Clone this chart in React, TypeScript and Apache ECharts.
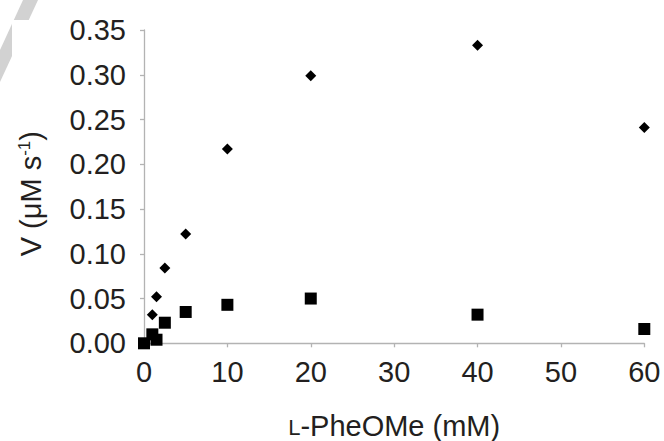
import React, { useEffect, useRef } from "react";
import * as echarts from "echarts";

const xValues = [0, 1, 1.5, 2.5, 5, 10, 20, 40, 60];
const diamondValues = [null, 0.032, 0.052, 0.084, 0.122, 0.217, 0.299, 0.333, 0.241];
const squareValues = [0.0, 0.01, 0.004, 0.023, 0.035, 0.043, 0.05, 0.032, 0.016];
const yTicks = [0, 0.05, 0.1, 0.15, 0.2, 0.25, 0.3, 0.35];
const xTicks = [0, 10, 20, 30, 40, 50, 60];

const FONT = "'Liberation Sans', Arial, sans-serif";
const TEXT = "#231f20";
const AXIS = "#b3b3b3";

function pairs(vals: (number | null)[]) {
  const out: number[][] = [];
  vals.forEach((v, i) => {
    if (v !== null) out.push([xValues[i], v]);
  });
  return out;
}

export default function App() {
  const ref = useRef<HTMLDivElement>(null);
  useEffect(() => {
    document.body.style.margin = "0";
    const chart = echarts.init(ref.current!, null, { renderer: "svg" });
    chart.setOption({
      animation: false,
      backgroundColor: "#ffffff",
      grid: {
        left: 144,
        right: 19.7,
        top: 30,
        bottom: 97.7,
        containLabel: false,
        outerBoundsMode: "none",
      },
      graphic: [
        {
          type: "polygon",
          z: 0,
          shape: { points: [[23, 0], [38, 0], [0, 82], [0, 50]] },
          style: { fill: "#d2d2d2" },
        },
        {
          type: "rect",
          z: 1,
          shape: { x: 12, y: 20, width: 50, height: 90 },
          style: { fill: "#ffffff" },
        },
      ],
      xAxis: {
        type: "value",
        min: xTicks[0],
        max: xTicks[xTicks.length - 1],
        interval: 10,
        name: "{sc|L}-PheOMe (mM)",
        nameLocation: "middle",
        nameGap: 68,
        nameTextStyle: {
          fontFamily: FONT,
          fontSize: 29,
          color: TEXT,
          rich: {
            sc: { fontFamily: FONT, fontSize: 22, color: TEXT, padding: [4, 0, 0, 0] },
          },
        },
        axisLine: { show: true, lineStyle: { color: AXIS, width: 1.3 } },
        axisTick: { show: true, length: 4, lineStyle: { color: AXIS, width: 1.3 } },
        splitLine: { show: false },
        axisLabel: { fontFamily: FONT, fontSize: 29, color: TEXT, margin: 14 },
      },
      yAxis: {
        type: "value",
        min: yTicks[0],
        max: yTicks[yTicks.length - 1],
        interval: 0.05,
        name: "V (μM s{sup|-1})",
        nameLocation: "middle",
        nameRotate: 90,
        nameGap: 99,
        nameTextStyle: {
          fontFamily: FONT,
          fontSize: 29,
          color: TEXT,
          padding: [0, 14, 0, 0],
          rich: { sup: { fontFamily: FONT, fontSize: 17, color: TEXT, verticalAlign: "top" } },
        },
        axisLine: { show: true, lineStyle: { color: AXIS, width: 1.3 } },
        axisTick: { show: true, length: 4, lineStyle: { color: AXIS, width: 1.3 } },
        splitLine: { show: false },
        axisLabel: {
          fontFamily: FONT,
          fontSize: 29,
          color: TEXT,
          margin: 18,
          formatter: (v: number) => v.toFixed(2),
        },
      },
      series: [
        {
          type: "scatter",
          symbol: "diamond",
          symbolSize: 11,
          clip: false,
          itemStyle: { color: "#000000", opacity: 1 },
          data: pairs(diamondValues),
        },
        {
          type: "scatter",
          symbol: "rect",
          symbolSize: 12,
          clip: false,
          itemStyle: { color: "#000000", opacity: 1 },
          data: pairs(squareValues),
        },
      ],
    });
    return () => chart.dispose();
  }, []);
  return (
    <div
      ref={ref}
      style={{ position: "fixed", left: 0, top: 0, width: 664, height: 441 }}
    />
  );
}
